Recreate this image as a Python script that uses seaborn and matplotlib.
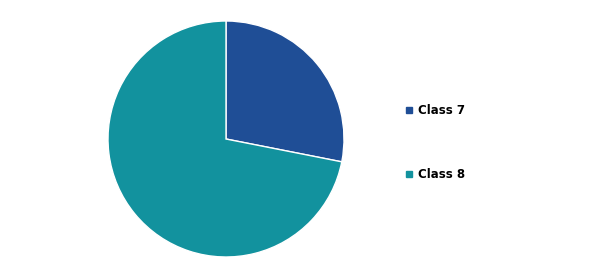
import matplotlib
matplotlib.use("Agg")
import matplotlib.pyplot as plt
import seaborn as sns
from matplotlib.lines import Line2D

categories = ["Class 7", "Class 8"]
values = [28.1, 71.9]
colors = ["#1F4E96", "#12929E"]

sns.set_theme(style="white")
plt.rcParams['font.family'] = ['DejaVu Sans']

fig = plt.figure(figsize=(6.1, 2.69), dpi=100)
ax = fig.add_axes([108/610, 12/269, 236/610, 236/269])
ax.pie(values, colors=colors, startangle=90, counterclock=False, radius=1.0,
       wedgeprops=dict(edgecolor="white", linewidth=1.0))
ax.set_xlim(-1.0, 1.0)
ax.set_ylim(-1.0, 1.0)
ax.set_aspect("equal")
ax.axis("off")

handles = [Line2D([0], [0], marker="s", linestyle="none", markersize=5,
                  markerfacecolor=c, markeredgecolor=c) for c in colors]
fig.legend(handles, categories, loc="center left",
           bbox_to_anchor=(392/610, 0.47), frameon=False,
           prop=dict(size=8.5, weight="bold"), labelspacing=4.3,
           handletextpad=0.3, handlelength=1.0, labelcolor="black")

fig.savefig("out.png", dpi=100)
